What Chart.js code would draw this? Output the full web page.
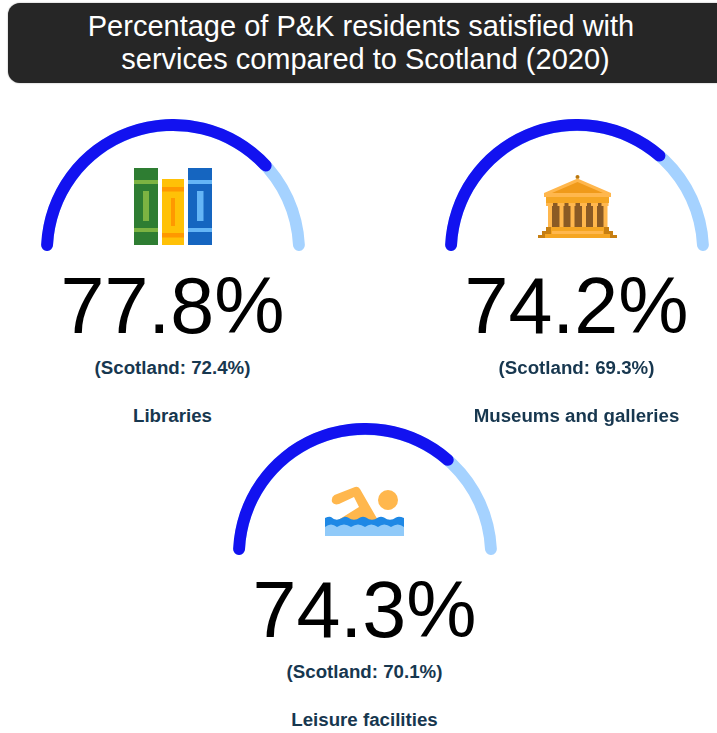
<!DOCTYPE html>
<html><head><meta charset="utf-8">
<script src="https://cdn.jsdelivr.net/npm/chart.js@4"></script>
<style>
html,body{margin:0;padding:0;background:#fff;overflow:hidden}
body{width:717px;height:733px;position:relative;font-family:"Liberation Sans",Arial,sans-serif}
#banner{position:absolute;left:8px;top:3px;width:720px;height:80px;background:#262626;border-radius:12px;box-shadow:0 0 1.5px #888}
#title{position:absolute;left:11px;top:10px;width:700px;text-align:center;color:#fff;font-size:29px;line-height:32.5px}
#title span{position:relative;left:4.5px}
.gauge{position:absolute;width:264px;height:132px}
.gauge canvas{position:absolute;left:0;top:0}
.t{position:absolute;width:320px;text-align:center}
.val{font-size:79px;line-height:79px;color:#000}
.sc,.cat{font-size:18.7px;font-weight:bold;line-height:22px;color:#17374f}
svg.icon{position:absolute;overflow:visible}
</style></head><body>
<div id="banner"></div>
<div id="title">Percentage of P&amp;K residents satisfied with<br><span>services compared to Scotland (2020)</span></div>

<svg class="icon" style="left:0;top:0" width="717" height="733">
 <!-- books -->
 <g>
  <rect x="134" y="168" width="24" height="77" fill="#2e7d32"/>
  <rect x="134" y="180" width="24" height="4" fill="#7cb342"/>
  <rect x="134" y="228" width="24" height="4" fill="#7cb342"/>
  <rect x="143" y="191" width="6" height="30" fill="#7cb342"/>
  <rect x="162" y="179" width="22" height="66" fill="#ffc107"/>
  <rect x="162" y="187" width="22" height="4.5" fill="#ff9800"/>
  <rect x="162" y="233" width="22" height="4.500" fill="#ff9800"/>
  <rect x="171" y="198" width="4" height="28" fill="#ff9800"/>
  <rect x="188" y="168" width="24" height="77" fill="#1565c0"/>
  <rect x="188" y="180" width="24" height="4" fill="#64b5f6"/>
  <rect x="188" y="228" width="24" height="4" fill="#64b5f6"/>
  <rect x="197" y="191" width="6.5" height="30" fill="#64b5f6"/>
 </g>
 <!-- museum -->
 <g>
  <circle cx="577.5" cy="177" r="2" fill="#b9770e"/>
  <path d="M577.5 178.500L611 193V197H544V193Z" fill="#ffb74d"/>
  <path d="M577.5 182L603 193H552Z" fill="#f09a1a"/>
  <rect x="546" y="197" width="63" height="6" fill="#f5a623"/>
  <rect x="548" y="203" width="58" height="24" fill="#8a5a24"/>
  <g fill="#ffb74d">
   <rect x="548" y="203" width="4" height="24"/><rect x="559.500" y="203" width="4" height="24"/>
   <rect x="570.500" y="203" width="4" height="24"/><rect x="582" y="203" width="4" height="24"/>
   <rect x="593" y="203" width="4" height="24"/><rect x="603.500" y="203" width="4" height="24"/>
   <rect x="546" y="203" width="7" height="3"/><rect x="557.500" y="203" width="7" height="3"/>
   <rect x="568.500" y="203" width="7" height="3"/><rect x="580" y="203" width="7" height="3"/>
   <rect x="591" y="203" width="7" height="3"/><rect x="601.500" y="203" width="7" height="3"/>
  </g>
  <path d="M546 227H609V231H613V235H617V238H538V235H542V231H546Z" fill="#c77f12"/>
  <path d="M551 227H604V234H610V238H545V234H551Z" fill="#f5a623"/>
  <rect x="552" y="231" width="51" height="3" fill="#ffb74d"/>
 </g>
 <!-- swimmer -->
 <g>
  <circle cx="388" cy="500" r="10" fill="#ffb74d"/>
  <path d="M334.500 495L355 487Q358 486 360 489L379 522H335L359 507L354 497L339 504Q334 505.500 332 502Q331 497 334.500 495Z" fill="#ffb74d"/>
  <rect x="325" y="522" width="79" height="14" fill="#90caf9"/>
  <path d="M325 518Q329 516 331 517Q336 522 343 517.500Q345 516 348 517.500Q354 522 360 517.500Q363 516 366 517.500Q372 522 378 517.500Q381 516 384 517.500Q390 522 396 517.500Q399 516 404 518V527Q398 522 391 527Q384 522 378 527Q371 522 365 527Q358 522 351 527Q344 522 337 527Q331 522 325 527Z" fill="#1e88e5"/>
 </g>
</svg>

<script>
const categories = ["Libraries", "Museums and galleries", "Leisure facilities"];
const pkValues = [77.8, 74.2, 74.3];
const scotlandValues = [72.4, 69.3, 70.1];
const centres = [[173, 251], [577, 251], [365, 555]];
const darkColour = "#1212f0";
const lightColour = "#a5d2ff";

function makeGauge(cx, cy, data, colours) {
  const wrap = document.querySelector("#g" + cx);
  const c = document.createElement("canvas");
  c.width = 264; c.height = 132;
  wrap.appendChild(c);
  new Chart(c, {
    type: "doughnut",
    data: { labels: ["Satisfied", "Rest"], datasets: [{ data, backgroundColor: colours, borderWidth: 0, borderRadius: 6 }] },
    options: {
      responsive: false, animation: false, rotation: -90, circumference: 180, cutout: "91%",
      layout: { padding: 0 },
      plugins: { legend: { display: false }, tooltip: { enabled: false } }
    }
  });
}

categories.forEach((cat, i) => {
  const [cx, cy] = centres[i];
  const g = document.createElement("div");
  g.className = "gauge"; g.id = "g" + cx;
  g.style.left = (cx - 132) + "px"; g.style.top = (cy - 132) + "px";
  document.body.appendChild(g);
  makeGauge(cx, cy, [100], [lightColour]);
  makeGauge(cx, cy, [pkValues[i], 100 - pkValues[i]], [darkColour, "rgba(0,0,0,0)"]);
  const add = (cls, text, top) => {
    const d = document.createElement("div");
    d.className = "t " + cls; d.textContent = text;
    d.style.left = (cx - 160.5) + "px"; d.style.top = (cy + top) + "px";
    document.body.appendChild(d);
  };
  add("val", pkValues[i].toFixed(1) + "%", 15);
  add("sc", "(Scotland: " + scotlandValues[i].toFixed(1) + "%)", 106);
  add("cat", cat, 154);
});
</script>
</body></html>
